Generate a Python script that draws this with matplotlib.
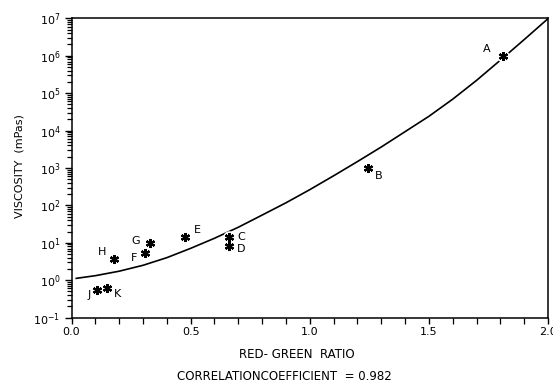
import matplotlib
matplotlib.use("Agg")
import matplotlib.pyplot as plt
from matplotlib.ticker import LogLocator, MultipleLocator, NullFormatter, FixedLocator

labels = ["A", "B", "C", "D", "E", "F", "G", "H", "J", "K"]
ratio = [1.81, 1.245, 0.66, 0.66, 0.477, 0.31, 0.33, 0.18, 0.109, 0.15]
viscosity = [1.0e6, 1.0e3, 14, 8.0, 14.7, 5.2, 10, 3.6, 0.56, 0.6]

# fitted curve
curve_x = [0.02, 0.1, 0.2, 0.3, 0.4, 0.5, 0.6, 0.7, 0.8, 0.9, 1.0,
           1.1, 1.2, 1.3, 1.4, 1.5, 1.6, 1.7, 1.8, 1.9, 2.0]
curve_y = [1.12, 1.32, 1.74, 2.5, 4.0, 7.1, 13.2, 26, 55, 117, 263,
           617, 1480, 3630, 9330, 2.4e4, 6.9e4, 2.19e5, 7.6e5, 2.7e6, 9.8e6]

# label offsets in points (dx, dy, ha)
offsets = {
    "A": (-9, 5, "right"), "B": (5, -6, "left"), "C": (6, 0, "left"),
    "D": (6, -2, "left"), "E": (6, 5, "left"), "F": (-6, -3, "right"),
    "G": (-7, 1, "right"), "H": (-6, 5, "right"), "J": (-5, -4, "right"),
    "K": (5, -4, "left"),
}

plt.rcParams["font.family"] = ["DejaVu Sans"]
fig = plt.figure(figsize=(5.53, 3.87), dpi=100)
ax = fig.add_axes([0.1293, 0.1793, 0.8617, 0.7734])

ax.plot(curve_x, curve_y, color="black", lw=1.2, zorder=2)
# white backing so the line breaks at the markers like in the print
ax.plot(ratio, viscosity, ls="none", marker="o", ms=9, mfc="white", mec="none", zorder=3)
ax.plot(ratio, viscosity, ls="none", marker=(6, 2, 0), ms=6.5, mew=1.6,
        color="black", zorder=4)
for lab, x, y in zip(labels, ratio, viscosity):
    dx, dy, ha = offsets[lab]
    ax.annotate(lab, (x, y), xytext=(dx, dy), textcoords="offset points",
                ha=ha, va="center", fontsize=8)

ax.set_yscale("log")
ax.set_xlim(0, 2.0)
ax.set_ylim(1e-1, 1e7)
ax.xaxis.set_major_locator(FixedLocator([0, 0.5, 1.0, 1.5, 2.0]))
ax.set_xticklabels(["0.0", "0.5", "1.0", "1.5", "2.0"])
ax.xaxis.set_minor_locator(MultipleLocator(0.1))
ax.yaxis.set_major_locator(LogLocator(base=10, numticks=20))
ax.yaxis.set_minor_locator(LogLocator(base=10, subs=range(2, 10), numticks=20))
ax.yaxis.set_minor_formatter(NullFormatter())

ax.tick_params(axis="both", which="major", direction="out", length=5, width=1,
               labelsize=8, pad=3)
ax.tick_params(axis="both", which="minor", direction="out", length=3.5, width=0.9)
ax.tick_params(axis="x", which="both", length=4)
for s in ax.spines.values():
    s.set_linewidth(1.1)

fig.text(0.036, 0.57, "VISCOSITY  (mPas)", rotation=90, ha="center", va="center",
         fontsize=8)
fig.text(0.537, 0.083, "RED- GREEN  RATIO", ha="center", va="center", fontsize=8.5)
fig.text(0.514, 0.028, "CORRELATIONCOEFFICIENT  = 0.982", ha="center", va="center",
         fontsize=8.5)

fig.savefig("out.png", dpi=100, facecolor="white")
